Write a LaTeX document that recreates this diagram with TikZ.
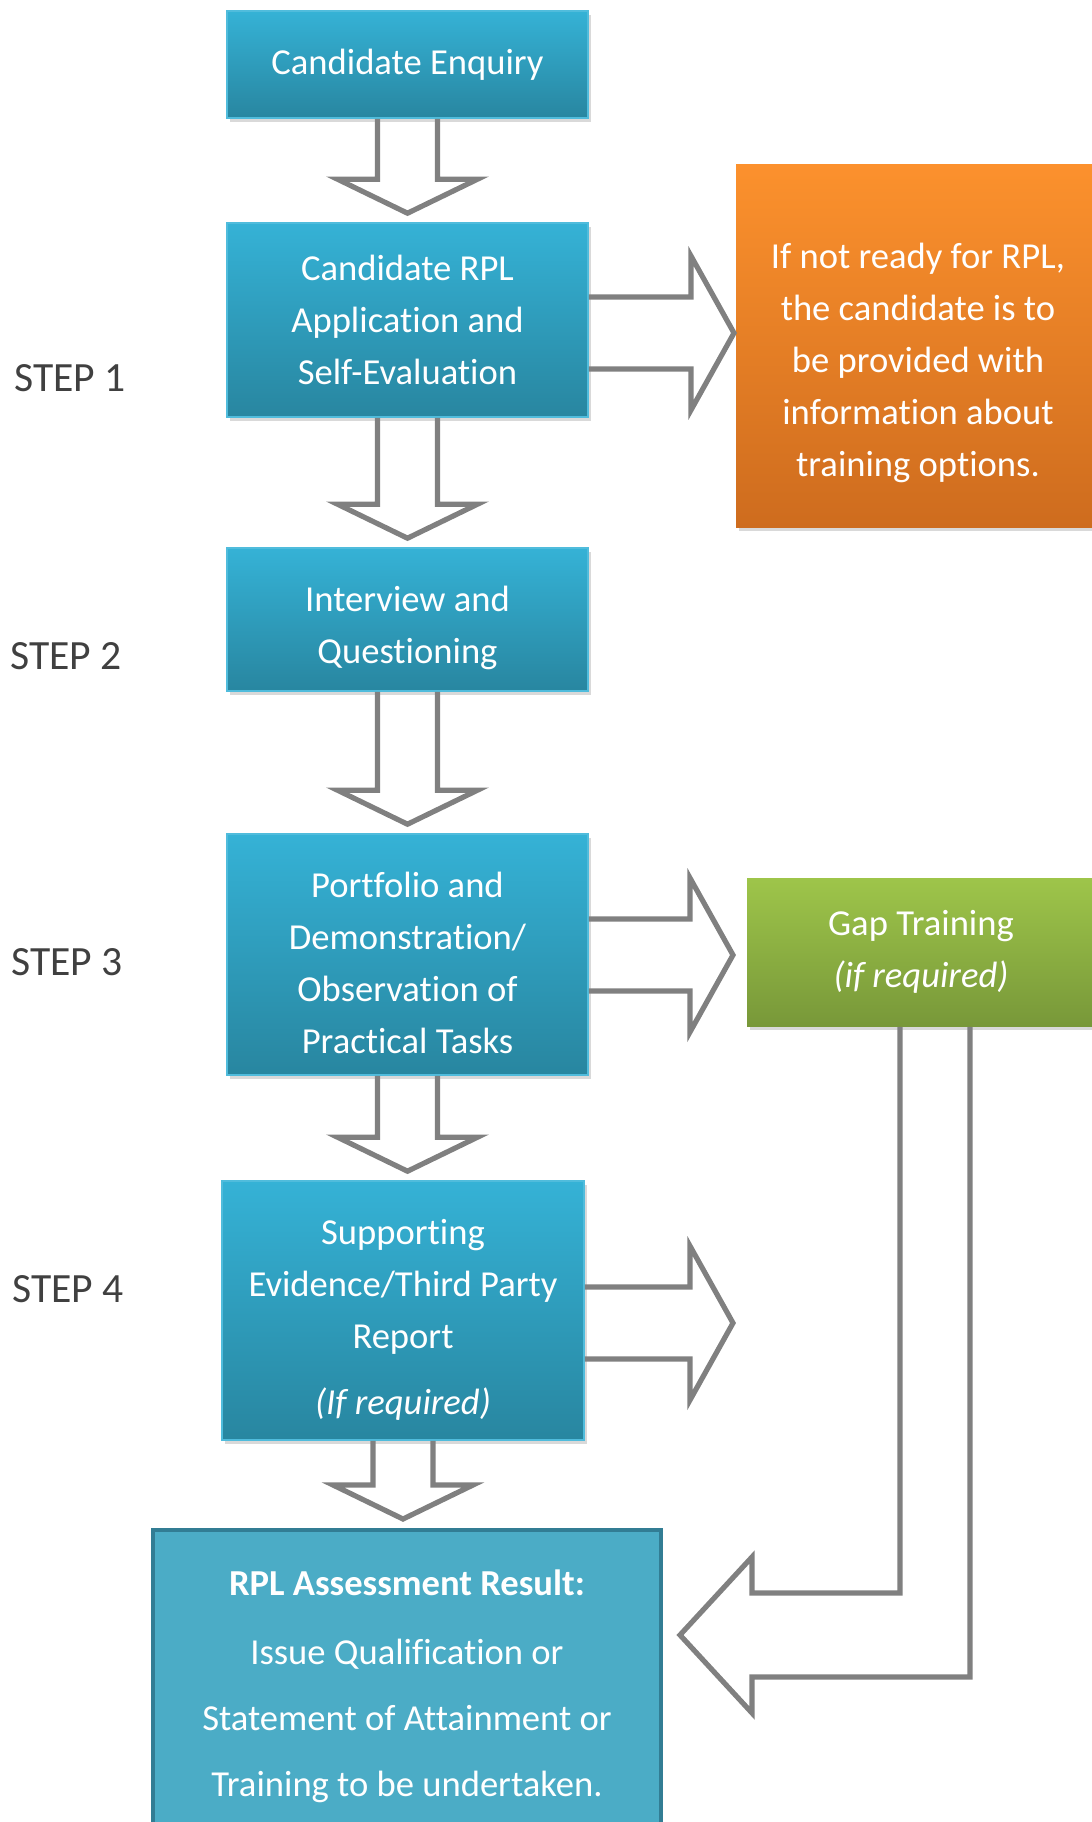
\documentclass[tikz,border=0pt]{standalone}
\usepackage{fontspec}
\setmainfont{Carlito}[Ligatures=NoCommon]
\usepackage{tikz}
\usetikzlibrary{calc}
\usetikzlibrary{shadows}

\definecolor{bluetop}{RGB}{53,178,214}
\definecolor{bluebot}{RGB}{40,134,160}
\definecolor{blueedge}{RGB}{80,188,220}
\definecolor{orangetop}{RGB}{252,145,45}
\definecolor{orangebot}{RGB}{206,108,30}
\definecolor{greentop}{RGB}{158,197,74}
\definecolor{greenbot}{RGB}{120,152,57}
\definecolor{resfill}{RGB}{75,172,198}
\definecolor{resedge}{RGB}{50,125,148}
\definecolor{arrowgray}{RGB}{128,128,128}
\definecolor{steptext}{RGB}{64,64,64}

% block arrow down, from node #1 to node #2
\newcommand{\fatdown}[2]{
  \draw[fatarrow] ($(#1.south)+(-30,0)$) -- ($(#1.south |- #2.north)+(-30,-43)$) -- ($(#1.south |- #2.north)+(-70,-43)$)
    -- ($(#1.south |- #2.north)+(0,-9)$) -- ($(#1.south |- #2.north)+(70,-43)$) -- ($(#1.south |- #2.north)+(30,-43)$) -- ($(#1.south)+(30,0)$);
}
% block arrow right, from node #1 to tip #2
\newcommand{\fatright}[2]{
  \draw[fatarrow] ($(#1.east |- #2)+(0,-36)$) -- ($(#2)+(-43,-36)$) -- ($(#2)+(-43,-77)$)
    -- (#2) -- ($(#2)+(-43,77)$) -- ($(#2)+(-43,36)$) -- ($(#1.east |- #2)+(0,36)$);
}

\begin{document}
\begin{tikzpicture}[x=0.5pt, y=-0.5pt,
  every node/.style={align=center, inner sep=0pt, text=white, font=\fontsize{18.3pt}{26pt}\selectfont},
  bluebox/.style={rectangle, draw=blueedge, line width=0.8pt, top color=bluetop, bottom color=bluebot,
    minimum width=180.5pt, drop shadow={shadow xshift=1.5pt, shadow yshift=-2pt, opacity=0.3}},
  sidebox/.style={rectangle, line width=0.8pt, drop shadow={shadow xshift=1.5pt, shadow yshift=-2pt, opacity=0.3}},
  resultbox/.style={rectangle, draw=resedge, fill=resfill, line width=2pt, minimum width=254pt,
    minimum height=152.5pt, font=\fontsize{18.3pt}{33pt}\selectfont},
  stepbox/.style={text=steptext, font=\fontsize{20.8pt}{25pt}\selectfont},
  fatarrow/.style={draw=arrowgray, line width=2.6pt, line join=miter}]
	\clip (0,0) rectangle (1092,1822);
	%Steps
	\node [stepbox] (s1) at (70,378) {STEP 1};
	\node [stepbox] (s2) at (66,656) {STEP 2};
	\node [stepbox] (s3) at (67,962) {STEP 3};
	\node [stepbox] (s4) at (68,1289) {STEP 4};
	%Main flow
	\node [bluebox, minimum height=53.5pt] (enquiry) at (407.5,64.5) {Candidate Enquiry};
	\node [bluebox, minimum height=97pt] (application) at (407.5,320) {Candidate RPL\\Application and\\Self-Evaluation};
	\node [bluebox, text height=47.5pt, minimum height=71.5pt] (interview) at (407.5,619.5) {Interview and\\Questioning};
	\node [bluebox, text height=98.8pt, minimum height=120.5pt] (portfolio) at (407.5,954.5) {Portfolio and\\Demonstration/\\Observation of\\Practical Tasks};
	\node [bluebox, text height=107pt, minimum width=181pt, minimum height=129.5pt] (evidence) at (403,1310.5) {Supporting\\Evidence/Third Party\\Report\\[7pt]\textit{(If required)}};
	\node [resultbox, text height=117pt] (result) at (407,1682.5) {\textbf{RPL Assessment Result:}\\[1.5pt]Issue Qualification or\\Statement of Attainment or\\Training to be undertaken.};
	\fatdown{enquiry}{application}
	\fatdown{application}{interview}
	\fatdown{interview}{portfolio}
	\fatdown{portfolio}{evidence}
	\fatdown{evidence}{result}
	%Side boxes
	\node [sidebox, text height=134pt, top color=orangetop, bottom color=orangebot, minimum width=182pt, minimum height=181.5pt] (notready) at (918,345.5) {If not ready for RPL,\\the candidate is to\\be provided with\\information about\\training options.};
	\node [sidebox, top color=greentop, bottom color=greenbot, minimum width=174pt, minimum height=74pt] (gap) at (921,952) {Gap Training\\\textit{(if required)}};
	\coordinate (t1) at (734,333);
	\coordinate (t3) at (733,955);
	\coordinate (t4) at (733,1323);
	\coordinate (t6) at (680,1635);
	\fatright{application}{t1}
	\fatright{portfolio}{t3}
	\fatright{evidence}{t4}
	\draw[fatarrow] ($(gap.south)+(-21,0)$) |- ($(t6)+(72,-42)$) -- ($(t6)+(72,-78)$) -- (t6)
		-- ($(t6)+(72,78)$) -- ($(t6)+(72,42)$) -| ($(gap.south)+(49,0)$);
\end{tikzpicture}
\end{document}
